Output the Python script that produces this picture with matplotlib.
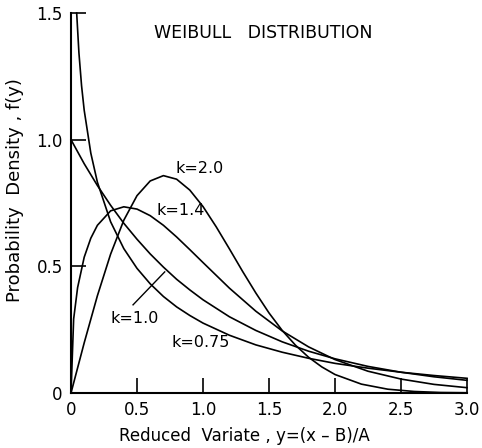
import matplotlib
matplotlib.use("Agg")
import matplotlib.pyplot as plt

# Values (reduced variate y, density f(y))
y_k075 = [0.043, 0.06, 0.08, 0.10, 0.15, 0.20, 0.30, 0.40, 0.50, 0.60, 0.70, 0.80, 0.90,
          1.00, 1.20, 1.40, 1.60, 1.80, 2.00, 2.25, 2.50, 2.75, 3.00]
f_k075 = [1.50, 1.343, 1.213, 1.116, 0.947, 0.832, 0.676, 0.570, 0.492, 0.431, 0.381, 0.340, 0.306,
          0.276, 0.228, 0.190, 0.161, 0.137, 0.117, 0.098, 0.082, 0.069, 0.058]

y_k10 = [0.0, 0.1, 0.2, 0.3, 0.4, 0.5, 0.6, 0.7, 0.8, 0.9, 1.0, 1.2, 1.4, 1.6, 1.8,
         2.0, 2.25, 2.5, 2.75, 3.0]
f_k10 = [1.0, 0.905, 0.819, 0.741, 0.670, 0.607, 0.549, 0.497, 0.449, 0.407, 0.368, 0.301,
         0.247, 0.202, 0.165, 0.135, 0.105, 0.082, 0.064, 0.050]

y_k14 = [0.0, 0.02, 0.05, 0.10, 0.15, 0.20, 0.30, 0.40, 0.50, 0.60, 0.70, 0.80, 0.90, 1.00,
         1.20, 1.40, 1.60, 1.80, 2.00, 2.25, 2.50, 2.75, 3.00]
f_k14 = [0.0, 0.292, 0.416, 0.536, 0.611, 0.662, 0.719, 0.735, 0.726, 0.700, 0.662, 0.616,
         0.566, 0.515, 0.414, 0.323, 0.245, 0.182, 0.132, 0.086, 0.055, 0.034, 0.021]

y_k20 = [0.0, 0.1, 0.2, 0.3, 0.4, 0.5, 0.6, 0.7, 0.8, 0.9, 1.0, 1.1, 1.2, 1.3, 1.4, 1.5,
         1.6, 1.7, 1.8, 1.9, 2.0, 2.2, 2.4, 2.6, 2.8, 3.0]
f_k20 = [0.0, 0.198, 0.384, 0.548, 0.682, 0.779, 0.837, 0.858, 0.844, 0.801, 0.736, 0.656,
         0.569, 0.480, 0.395, 0.316, 0.247, 0.189, 0.141, 0.103, 0.073, 0.035, 0.015, 0.006,
         0.002, 0.001]

x_ticks = [0, 0.5, 1.0, 1.5, 2.0, 2.5, 3.0]
x_tick_labels = ["0", "0.5", "1.0", "1.5", "2.0", "2.5", "3.0"]
y_ticks = [0, 0.5, 1.0, 1.5]
y_tick_labels = ["0", "0.5", "1.0", "1.5"]

fig = plt.figure(figsize=(4.82, 4.48), dpi=100)
ax = fig.add_axes([71 / 482, 1 - 393 / 448, (467 - 71) / 482, (393 - 13) / 448])

lw = 1.2
for xs, ys in [(y_k075, f_k075), (y_k10, f_k10), (y_k14, f_k14), (y_k20, f_k20)]:
    ax.plot(xs, ys, color="black", lw=lw, clip_on=False)

ax.set_xlim(0, 3.0)
ax.set_ylim(0, 1.5)
for s in ["top", "right"]:
    ax.spines[s].set_visible(False)
for s in ["left", "bottom"]:
    ax.spines[s].set_linewidth(1.5)

ax.set_xticks(x_ticks)
ax.set_xticklabels(x_tick_labels)
ax.set_yticks(y_ticks)
ax.set_yticklabels(y_tick_labels)
ax.tick_params(direction="in", length=11, width=1.2, labelsize=12, pad=6)

fs = 11.5
ax.text(0.63, 1.42, "WEIBULL   DISTRIBUTION", fontsize=12.5, ha="left", va="center")
ax.text(0.795, 0.885, "k=2.0", fontsize=fs, ha="left", va="center")
ax.text(0.65, 0.72, "k=1.4", fontsize=fs, ha="left", va="center")
ax.text(0.30, 0.296, "k=1.0", fontsize=fs, ha="left", va="center")
ax.text(0.765, 0.198, "k=0.75", fontsize=fs, ha="left", va="center")
ax.plot([0.47, 0.71], [0.348, 0.478], color="black", lw=1.0)

ax.set_ylabel("Probability  Density , f(y)", fontsize=13)
ax.yaxis.set_label_coords(-0.118, 0.534)
fig.text(244 / 482, 1 - 436 / 448, "Reduced  Variate , y=(x – B)/A", fontsize=12,
         ha="center", va="center")

fig.savefig("out.png", dpi=100)
